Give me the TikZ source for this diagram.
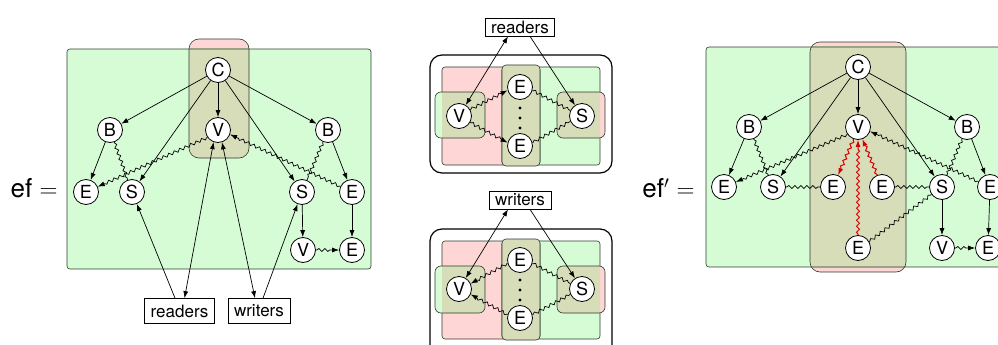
\documentclass[tikz,border=0pt]{standalone}
\usepackage{fontspec}
\setmainfont{TeX Gyre Heros}
\usetikzlibrary{arrows.meta,decorations.pathmorphing}
\definecolor{lgreen}{RGB}{214,252,214}
\definecolor{lpink}{RGB}{255,214,214}
\definecolor{olv}{RGB}{215,220,185}
\definecolor{redarr}{RGB}{215,0,0}
\definecolor{regline}{RGB}{45,60,45}
\begin{document}
\begin{tikzpicture}[x=1pt,y=-1pt,
  vert/.style={circle,draw,fill=white,minimum size=25pt,inner sep=0pt,line width=0.8pt,font=\fontsize{18}{18}\selectfont},
  boxl/.style={draw,fill=white,line width=0.7pt,minimum height=25pt,inner xsep=6pt,inner ysep=0pt,font=\fontsize{17}{17}\selectfont},
  boxm/.style={draw,fill=white,line width=0.7pt,minimum height=18pt,inner xsep=6pt,inner ysep=0pt,font=\fontsize{17}{17}\selectfont},
  arr/.style={-{Latex[length=7pt,width=5pt]},line width=0.7pt},
  darr/.style={{Latex[length=7pt,width=5pt]}-{Latex[length=7pt,width=5pt]},line width=0.7pt},
  wav/.style={decorate,decoration={snake,amplitude=1.5pt,segment length=6pt,pre length=1pt,post length=1pt},line width=0.7pt},
  wavarr/.style={-{Latex[length=7pt,width=5pt]},decorate,decoration={snake,amplitude=1.5pt,segment length=6pt,pre length=1pt,post length=7pt},line width=0.7pt},
  redwav/.style={wavarr,draw=redarr,line width=1pt},
  region/.style={draw=regline,line width=0.6pt},
  eqlbl/.style={anchor=east,font=\fontsize{26}{26}\selectfont}
]
\useasboundingbox (0,0) rectangle (998,345);

% ===================== left graph: ef =====================
\node[eqlbl] (ef) at (61,188) {ef $=$};
\fill[lgreen] (67,49) rectangle (371,269);
\fill[lpink, rounded corners=10pt] (189,39) rectangle (249,158);
\begin{scope}
  \clip (67,49) rectangle (371,269);
  \fill[olv, rounded corners=10pt] (189,39) rectangle (249,158);
\end{scope}
\draw[region, rounded corners=3pt] (67,49) rectangle (371,269);
\draw[region, rounded corners=10pt] (189,39) rectangle (249,158);

\node[vert] (C1) at (218,70) {C};
\node[vert] (V1) at (218,130) {V};
\node[vert] (BL1) at (110,130) {B};
\node[vert] (BR1) at (328,130) {B};
\node[vert] (EL1) at (86,192) {E};
\node[vert] (SL1) at (132,192) {S};
\node[vert] (SR1) at (302,192) {S};
\node[vert] (ER1) at (352,192) {E};
\node[vert] (VB1) at (303,250) {V};
\node[vert] (EB1) at (352,250) {E};
\node[boxl] (rd1) at (179.5,311) {readers};
\node[boxl] (wr1) at (259,311) {writers};

\draw[arr] (C1) -- (BL1);
\draw[arr] (C1) -- (V1);
\draw[arr] (C1) -- (BR1);
\draw[arr] (C1) -- (SL1);
\draw[arr] (C1) -- (SR1);
\draw[arr] (BL1) -- (EL1);
\draw[arr] (BR1) -- (ER1);
\draw[wav] (BL1) -- (SL1);
\draw[wav] (BR1) -- (SR1);
\draw[wavarr] (V1.215) -- (EL1);
\draw[wavarr] (ER1) -- (V1.-20);
\draw[arr] (SR1) -- (VB1);
\draw[arr] (ER1) -- (EB1);
\draw[wavarr] (VB1) -- (EB1);
\draw[arr] ([xshift=-4.5pt]rd1.north) -- (SL1);
\draw[darr] ([xshift=5pt]rd1.north) -- (V1.-110);
\draw[darr] (V1.-72) -- ([xshift=-4pt]wr1.north);
\draw[arr] ([xshift=4pt]wr1.north) -- (SR1);

% ===================== middle top: readers =====================
\draw[line width=1.2pt, fill=white, rounded corners=12pt] (430,55) rectangle (612,173);
\fill[lpink, rounded corners=3pt] (442,67) rectangle (540,165);
\fill[lgreen, rounded corners=3pt] (502,67) rectangle (600,165);
\draw[region, rounded corners=3pt] (442,67) rectangle (540,165);
\draw[region, rounded corners=3pt] (502,67) rectangle (600,165);
\draw[region, fill=olv, rounded corners=4pt] (502,65) rectangle (540,166);
% V box
\fill[lgreen, rounded corners=6pt] (435,92) rectangle (485,138);
\begin{scope}
  \clip (442,67) rectangle (540,165);
  \fill[olv, rounded corners=6pt] (435,92) rectangle (485,138);
\end{scope}
\draw[region, rounded corners=6pt] (435,92) rectangle (485,138);
% S box
\fill[lpink, rounded corners=6pt] (557,92) rectangle (605,138);
\begin{scope}
  \clip (502,67) rectangle (600,165);
  \fill[olv, rounded corners=6pt] (557,92) rectangle (605,138);
\end{scope}
\draw[region, rounded corners=6pt] (557,92) rectangle (605,138);

\node[boxm] (rd2) at (520,27) {readers};
\node[vert] (V3) at (459,116) {V};
\node[vert] (S3) at (582,116) {S};
\node[vert] (Et3) at (520,87) {E};
\node[vert] (Eb3) at (520,146) {E};
\fill (520,108) circle (1.6pt) (520,118) circle (1.6pt) (520,128) circle (1.6pt);

\draw[darr] ([xshift=-12pt]rd2.south) -- (V3);
\draw[arr] ([xshift=10pt]rd2.south) -- (S3);
\draw[wavarr] (V3.30) -- (Et3.195);
\draw[wavarr] (V3.-30) -- (Eb3.165);
\draw[wav] (Et3.-15) -- (S3.155);
\draw[wav] (Eb3.15) -- (S3.205);

% ===================== middle bottom: writers =====================
\draw[line width=1.2pt, fill=white, rounded corners=12pt] (430,229) rectangle (612,360);
\fill[lpink, rounded corners=3pt] (442,241) rectangle (540,339);
\fill[lgreen, rounded corners=3pt] (502,241) rectangle (600,339);
\draw[region, rounded corners=3pt] (442,241) rectangle (540,339);
\draw[region, rounded corners=3pt] (502,241) rectangle (600,339);
\draw[region, fill=olv, rounded corners=4pt] (502,239) rectangle (540,340);
\fill[lgreen, rounded corners=6pt] (435,266) rectangle (485,313);
\begin{scope}
  \clip (442,241) rectangle (540,339);
  \fill[olv, rounded corners=6pt] (435,266) rectangle (485,313);
\end{scope}
\draw[region, rounded corners=6pt] (435,266) rectangle (485,313);
\fill[lpink, rounded corners=6pt] (557,266) rectangle (605,313);
\begin{scope}
  \clip (502,241) rectangle (600,339);
  \fill[olv, rounded corners=6pt] (557,266) rectangle (605,313);
\end{scope}
\draw[region, rounded corners=6pt] (557,266) rectangle (605,313);

\node[boxm] (wr2) at (520,200) {writers};
\node[vert] (V4) at (459,289) {V};
\node[vert] (S4) at (582,289) {S};
\node[vert] (Et4) at (520,260) {E};
\node[vert] (Eb4) at (520,318) {E};
\fill (520,280) circle (1.6pt) (520,290) circle (1.6pt) (520,300) circle (1.6pt);

\draw[darr] ([xshift=-12pt]wr2.south) -- (V4);
\draw[arr] ([xshift=10pt]wr2.south) -- (S4);
\draw[wavarr] (Et4.195) -- (V4.25);
\draw[wavarr] (Eb4.165) -- (V4.-25);
\draw[wav] (Et4.-15) -- (S4.155);
\draw[wav] (Eb4.15) -- (S4.205);

% ===================== right graph: ef' =====================
\node[eqlbl] (efp) at (698,188) {ef$'$ $=$};
\fill[lgreen] (706,47) rectangle (1010,267);
\fill[lpink, rounded corners=10pt] (810,42) rectangle (906,272);
\begin{scope}
  \clip (706,47) rectangle (1010,267);
  \fill[olv, rounded corners=10pt] (810,42) rectangle (906,272);
\end{scope}
\draw[region, rounded corners=3pt] (706,47) rectangle (1010,267);
\draw[region, rounded corners=10pt] (810,42) rectangle (906,272);

\node[vert] (C2) at (858,67) {C};
\node[vert] (V2) at (858,127) {V};
\node[vert] (BL2) at (749,127) {B};
\node[vert] (BR2) at (967,127) {B};
\node[vert] (EL2) at (724,187) {E};
\node[vert] (SL2) at (773,187) {S};
\node[vert] (EM1) at (833,187) {E};
\node[vert] (EM2) at (882,187) {E};
\node[vert] (SR2) at (942,187) {S};
\node[vert] (ER2) at (990,187) {E};
\node[vert] (EB2) at (858,248) {E};
\node[vert] (VB2) at (942,248) {V};
\node[vert] (EBR2) at (988,248) {E};

\draw[arr] (C2) -- (BL2);
\draw[arr] (C2) -- (V2);
\draw[arr] (C2) -- (BR2);
\draw[arr] (C2) -- (SL2);
\draw[arr] (C2) -- (SR2);
\draw[arr] (BL2) -- (EL2);
\draw[arr] (BR2) -- (ER2);
\draw[wav] (BL2) -- (SL2);
\draw[wav] (BR2) -- (SR2);
\draw[wavarr] (V2.215) -- (EL2);
\draw[wavarr] (ER2) -- (V2.-20);
\draw[wav] (SL2) -- (EM1);
\draw[wav] (EM2) -- (SR2);
\draw[wav] (EB2.30) -- (SR2.215);
\draw[redwav] (V2.250) -- (EM1);
\draw[redwav] (EM2) -- (V2.290);
\draw[redwav] (EB2) -- (V2);
\draw[arr] (SR2) -- (VB2);
\draw[arr] (ER2) -- (EBR2);
\draw[wavarr] (VB2) -- (EBR2);
\end{tikzpicture}
\end{document}
